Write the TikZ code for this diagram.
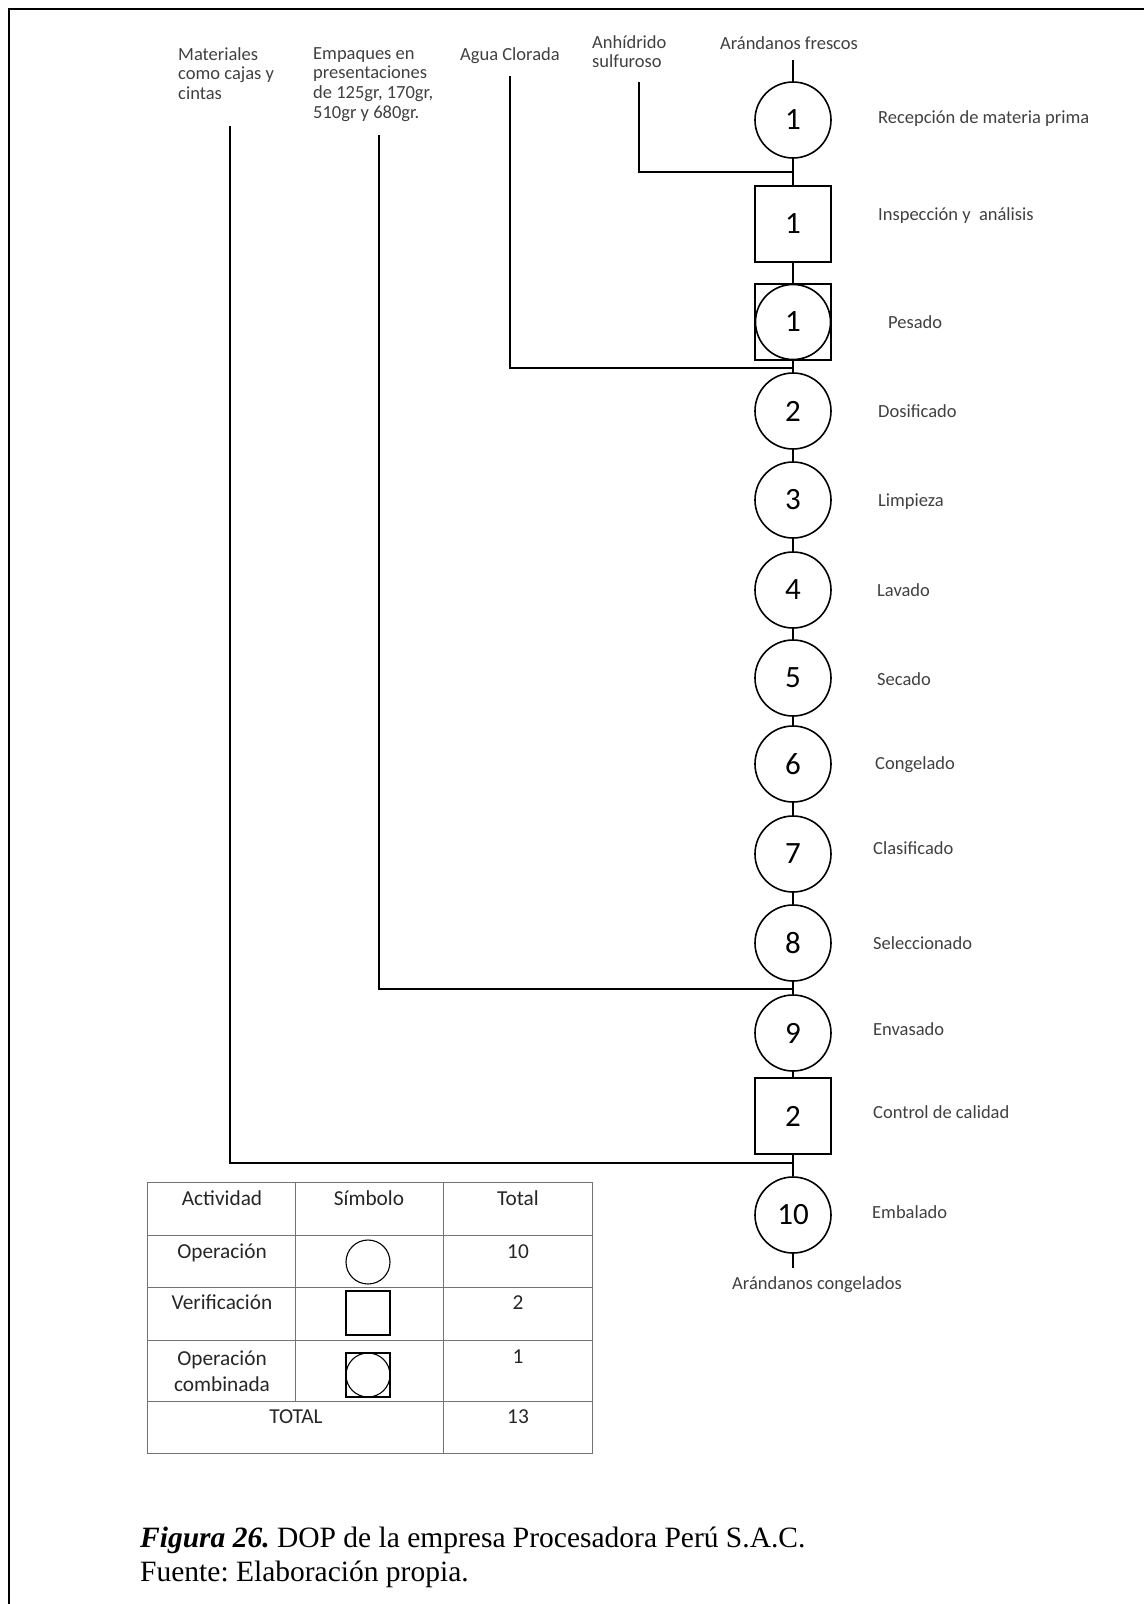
\documentclass[tikz,border=0pt]{standalone}
\usepackage{fontspec}
\setmainfont{Carlito}
\newfontfamily\capfont{Liberation Serif}
\usetikzlibrary{calc, positioning}
\frenchspacing

\begin{document}
\begin{tikzpicture}[x=1pt, y=-1pt,
    flow/.style={line width=1.6pt},
    op/.style={draw, circle, line width=1.6pt, minimum size=76pt, inner sep=0pt, font=\fontsize{31}{36}\selectfont},
    insp/.style={draw, rectangle, line width=1.6pt, minimum size=76pt, inner sep=0pt, font=\fontsize{31}{36}\selectfont},
    combo/.style={insp, path picture={\draw[line width=1.6pt] (path picture bounding box.center) circle (37.5pt);}},
    lbl/.style={anchor=west, inner sep=0pt, text height=13pt, text depth=4pt, text=black!75, font=\fontsize{18.5}{22.5}\selectfont},
    matin/.style={anchor=north west, align=left, inner sep=0pt, text=black!75, font=\fontsize{18.5}{19.8}\selectfont},
    tcell/.style={inner sep=0pt, text=black!85, font=\fontsize{21.3}{26}\selectfont},
    tabline/.style={line width=1pt, draw=black!55},
    sym/.style={line width=1.1pt}
]
\useasboundingbox (0,0) rectangle (1144,1604);
\draw[line width=2pt] (9,1604) -- (9,9) -- (1144,9);

% main column
\coordinate (top) at (793,60);
\node[lbl, anchor=center] (fresh) at (789,45) {Arándanos frescos};
\node[op] (o1) at (793,120) {1};
\node[insp] (i1) at (793,224) {1};
\node[combo] (p1) at (793,322) {1};
\node[op] (o2) at (793,411) {2};
\node[op] (o3) at (793,500) {3};
\node[op] (o4) at (793,590) {4};
\node[op] (o5) at (793,678) {5};
\node[op] (o6) at (793,764) {6};
\node[op] (o7) at (793,854) {7};
\node[op] (o8) at (793,943) {8};
\node[op] (o9) at (793,1033) {9};
\node[insp] (i2) at (793,1116) {2};
\node[op] (o10) at (793,1215) {10};
\coordinate (bottom) at (793,1268);
\node[lbl, anchor=center] (frozen) at (817,1285) {Arándanos congelados};

\coordinate (j1) at (793,172);
\coordinate (j2) at (793,368);
\coordinate (j3) at (793,989);
\coordinate (j4) at (793,1163);

\draw[flow] (top) -- (o1) -- (i1) -- (p1) -- (o2) -- (o3) -- (o4) -- (o5) -- (o6) -- (o7) -- (o8) -- (o9) -- (i2) -- (o10) -- (bottom);

% step names
\node[lbl] (l1) at (878,119) {Recepción de materia prima};
\node[lbl] (l2) at (878,216) {Inspección y\ \ análisis};
\node[lbl] (l3) at (888,324) {Pesado};
\node[lbl] (l4) at (878,413) {Dosificado};
\node[lbl] (l5) at (878,502) {Limpieza};
\node[lbl] (l6) at (877,592) {Lavado};
\node[lbl] (l7) at (877,681) {Secado};
\node[lbl] (l8) at (875,765) {Congelado};
\node[lbl] (l9) at (873,850) {Clasificado};
\node[lbl] (l10) at (873,945) {Seleccionado};
\node[lbl] (l11) at (873,1031) {Envasado};
\node[lbl] (l12) at (873,1114) {Control de calidad};
\node[lbl] (l13) at (872,1214) {Embalado};

% inputs
\node[matin] (mat) at (178,47) {Materiales\\como cajas y\\cintas};
\node[matin] (emp) at (313,47) {Empaques en\\presentaciones\\de 125gr, 170gr,\\510gr y 680gr.};
\node[matin] (agua) at (460,47) {Agua Clorada};
\node[matin] (anh) at (592,35) {Anhídrido\\sulfuroso};

\coordinate (matT) at (230,126);
\coordinate (empT) at (379,135);
\coordinate (aguaT) at (510,76);
\coordinate (anhT) at (639,82);

\draw[flow] (anhT) |- (j1);
\draw[flow] (aguaT) |- (j2);
\draw[flow] (empT) |- (j3);
\draw[flow] (matT) |- (j4);
%\draw[flow] (matT) -- (mat.south);

% summary table
\begin{scope}[shift={(147,1182)}]
    \draw[tabline] (0,0) rectangle (445,271);
    \draw[tabline] (0,53) -- (445,53);
    \draw[tabline] (0,105) -- (445,105);
    \draw[tabline] (0,158) -- (445,158);
    \draw[tabline] (0,219) -- (445,219);
    \draw[tabline] (148,0) -- (148,219);
    \draw[tabline] (296,0) -- (296,271);

    \node[tcell, text height=15pt, text depth=5pt] (hact) at (75,18) {Actividad};
    \node[tcell, text height=15pt, text depth=5pt] (hsym) at (222,18) {Símbolo};
    \node[tcell, text height=15pt, text depth=5pt] (htot) at (371,18) {Total};

    \node[tcell, text height=15pt, text depth=5pt] (aop) at (75,71) {Operación};
    \node[tcell, text height=15pt, text depth=5pt] (nop) at (371,71) {10};
    \draw[sym] (221,80) circle (22pt);

    \node[tcell, text height=15pt, text depth=5pt] (aver) at (75,122) {Verificación};
    \node[tcell, text height=15pt, text depth=5pt] (nver) at (371,122) {2};
    \draw[sym] (199,109) rectangle (243,153);

    \node[tcell, align=center] (acomb) at (75,189) {Operación\\combinada};
    \node[tcell, text height=15pt, text depth=5pt] (ncomb) at (371,176) {1};
    \draw[sym] (199,171) rectangle (243,215);
    \draw[sym] (221,193) circle (22pt);

    \node[tcell, text height=15pt, text depth=5pt] (atot) at (149,236) {TOTAL};
    \node[tcell, text height=15pt, text depth=5pt] (ntot) at (371,236) {13};
\end{scope}

% caption
\node[anchor=base west, inner sep=0pt, font=\capfont\fontsize{29.5}{34}\selectfont] (cap) at (140,1547) {\textbf{\textit{Figura 26.}} DOP de la empresa Procesadora Perú S.A.C.};
\node[anchor=base west, inner sep=0pt, font=\capfont\fontsize{29.5}{34}\selectfont] (src) at (140,1581) {Fuente: Elaboración propia.};
\end{tikzpicture}
\end{document}
